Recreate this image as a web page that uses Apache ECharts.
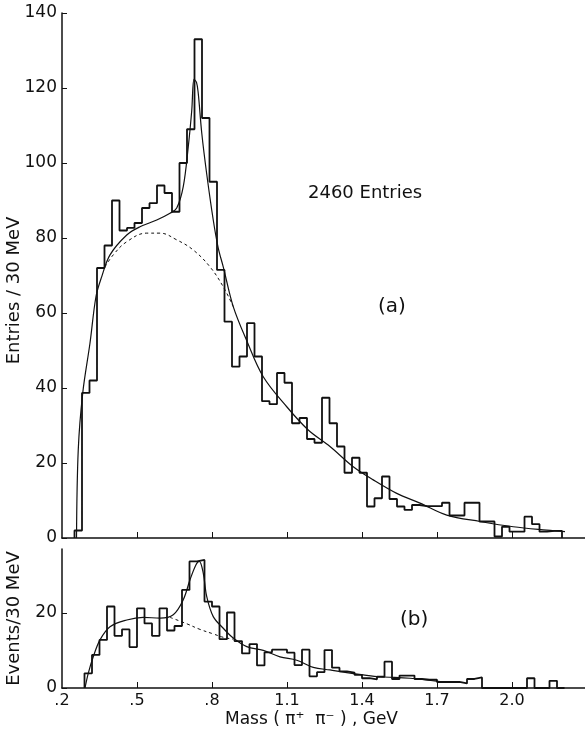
<!DOCTYPE html>
<html>
<head>
<meta charset="utf-8">
<script src="https://cdn.jsdelivr.net/npm/echarts@6/dist/echarts.min.js"></script>
<style>
  html, body { margin: 0; background: #fff; }
  #main { width: 585px; height: 734px; }
</style>
</head>
<body>
<div id="main"></div>
<script>
// Histogram bins are 30 MeV wide (values in GeV)
const binWidth = 0.03;

// (a) all entries, bins start at 0.25 GeV
const topBinStart = 0.25;
const topCounts = [2, 38.7, 42, 72, 78, 90, 82, 82.7, 84, 88, 89.3, 94, 92, 87, 100, 109, 133, 112, 95,
    71.5, 57.7, 45.7, 48.4, 57.3, 48.4, 36.5, 35.7, 44, 41.4, 30.6, 32, 26.4, 25.4, 37.4, 30.6, 24.4,
    17.4, 21.4, 17.4, 8.4, 10.6, 16.4, 10.4, 8.4, 7.5, 8.8, 8.5, 8.5, 8.5, 9.4, 6, 6, 9.4, 9.4,
    4.4, 4.4, 0.4, 3, 1.7, 1.7, 5.7, 3.7, 1.7, 1.9, 1.9];

// (b) events, bins start at 0.29 GeV
const bottomBinStart = 0.29;
const bottomCounts = [3.9, 8.8, 12.8, 21.7, 13.9, 15.6, 10.9, 21.2, 17.2, 13.9, 21.2, 15.3, 16.5, 26.1,
    33.7, 34.1, 23, 21.7, 13, 20.1, 12.5, 9.2, 11.7, 6, 9.5, 10.2, 10.2, 9.4, 6.1, 10.2, 3.1, 4.2,
    10.1, 5.4, 4.4, 4.1, 3.5, 2.6, 2.3, 3, 7, 2.4, 3.3, 3.3, 2.4, 2.2, 2.2, 1.6, 1.6, 1.6, 1.2, 2.4,
    2.8, 0, 0, 0, 0, 0, 0, 2.6, 0, 0, 1.9, 0];

// fitted curves [mass, value]
const topFit = [[0.258, 0], [0.265, 23.5], [0.283, 38.7], [0.312, 52], [0.336, 64.4], [0.359, 69.7],
    [0.392, 75.5], [0.459, 80.8], [0.512, 83], [0.579, 84.8], [0.632, 86.6], [0.659, 88],
    [0.685, 93.7], [0.705, 104.3], [0.719, 114], [0.728, 122.3], [0.738, 121.5], [0.745, 118.6],
    [0.759, 108], [0.779, 97], [0.805, 84.8], [0.825, 77.3], [0.845, 72.3], [0.885, 61.7],
    [0.939, 52.6], [1.005, 43], [1.099, 35], [1.185, 28.8], [1.272, 24.4], [1.365, 19],
    [1.445, 15.5], [1.539, 11.9], [1.632, 9.3], [1.739, 6.1], [1.872, 4.4], [2.005, 3],
    [2.139, 2.1], [2.212, 1.7]];
const topBackground = [[0.372, 72.3], [0.405, 75.5], [0.459, 79], [0.539, 81.3], [0.592, 81.3],
    [0.659, 79.5], [0.725, 76.8], [0.792, 72.3], [0.845, 67], [0.885, 61.7]];

const bottomFit = [[0.292, 0], [0.305, 3.9], [0.325, 8.3], [0.352, 12.8], [0.392, 16.3], [0.459, 18.1],
    [0.525, 18.8], [0.592, 18.6], [0.645, 19.5], [0.685, 23.5], [0.712, 28.8], [0.736, 32.8],
    [0.749, 33.7], [0.765, 30.6], [0.779, 24.3], [0.805, 19], [0.845, 15.9], [0.885, 13.3],
    [0.939, 11], [1.005, 10], [1.072, 8.3], [1.139, 7.4], [1.205, 5.5], [1.272, 4.8],
    [1.339, 4.1], [1.405, 3.5], [1.472, 3.0], [1.592, 2.6], [1.712, 1.7]];
const bottomBackground = [[0.632, 18.8], [0.699, 17.1], [0.752, 15.6], [0.805, 14.4],
    [0.845, 13.5], [0.885, 13.0]];

// axis ticks
const xTickValues = [0.2, 0.5, 0.8, 1.1, 1.4, 1.7, 2.0];
const xTickLabels = ['.2', '.5', '.8', '1.1', '1.4', '1.7', '2.0'];
const bottomYTicks = [0, 20];

// Turn bin contents into an outline for a stepped line
function histOutline(start, counts) {
    let pts = [[start, 0]];
    for (let i = 0; i < counts.length; i++) {
        pts.push([start + i * binWidth, counts[i]]);
    }
    const end = start + counts.length * binWidth;
    pts.push([end, counts[counts.length - 1]]);
    pts.push([end, 0]);
    return pts;
}

function xLabel(v) {
    const i = xTickValues.findIndex(t => Math.abs(t - v) < 1e-6);
    return i >= 0 ? xTickLabels[i] : '';
}

const font = 'DejaVu Sans';
const ink = '#111';

const chartDom = document.getElementById('main');
const myChart = echarts.init(chartDom, null, { renderer: 'canvas' });

const axisLine = { show: true, lineStyle: { color: ink, width: 1.5 } };

const option = {
    backgroundColor: '#fff',
    animation: false,
    grid: [
        { left: 62, top: 13, width: 525, height: 525, outerBoundsMode: 'none', containLabel: false },
        { left: 62, top: 549, width: 525, height: 139, outerBoundsMode: 'none', containLabel: false }
    ],
    xAxis: [
        {
            type: 'value', gridIndex: 0, min: 0.2, max: 2.3,
            axisLine: axisLine,
            axisTick: { inside: true, length: 6, customValues: xTickValues.slice(1), lineStyle: { color: ink } },
            axisLabel: { show: false },
            splitLine: { show: false }
        },
        {
            type: 'value', gridIndex: 1, min: 0.2, max: 2.3,
            axisLine: axisLine,
            axisTick: { inside: true, length: 6, customValues: xTickValues.slice(1), lineStyle: { color: ink } },
            axisLabel: {
                customValues: xTickValues, formatter: xLabel, margin: 5,
                color: ink, fontFamily: font, fontSize: 16
            },
            splitLine: { show: false },
            name: 'Mass ( π⁺  π⁻ ) , GeV',
            nameLocation: 'middle', nameGap: 23, nameMoveOverlap: false,
            nameTextStyle: { color: ink, fontFamily: font, fontSize: 17, padding: [0, 26, 0, 0] }
        }
    ],
    yAxis: [
        {
            type: 'value', gridIndex: 0, min: 0, max: 140, interval: 20,
            axisLine: axisLine,
            axisTick: { inside: true, length: 5, lineStyle: { color: ink } },
            axisLabel: { margin: 5, color: ink, fontFamily: font, fontSize: 17 },
            splitLine: { show: false },
            name: 'Entries / 30 MeV',
            nameLocation: 'middle', nameGap: 39, nameRotate: 90, nameMoveOverlap: false,
            nameTextStyle: { color: ink, fontFamily: font, fontSize: 18, padding: [0, 30, 0, 0] }
        },
        {
            type: 'value', gridIndex: 1, min: 0, max: 37,
            axisLine: axisLine,
            axisTick: { inside: true, length: 5, customValues: bottomYTicks, lineStyle: { color: ink } },
            axisLabel: { customValues: bottomYTicks, margin: 5, color: ink, fontFamily: font, fontSize: 17 },
            splitLine: { show: false },
            name: 'Events/30 MeV',
            nameLocation: 'middle', nameGap: 39, nameRotate: 90, nameMoveOverlap: false,
            nameTextStyle: { color: ink, fontFamily: font, fontSize: 18 }
        }
    ],
    graphic: [
        { type: 'text', left: 308, top: 184, style: { text: '2460 Entries', fill: ink, font: '18px "DejaVu Sans"' } },
        { type: 'text', left: 378, top: 297, style: { text: '(a)', fill: ink, font: '20px "DejaVu Sans"' } },
        { type: 'text', left: 400, top: 610, style: { text: '(b)', fill: ink, font: '20px "DejaVu Sans"' } }
    ],
    series: [
        {
            type: 'line', xAxisIndex: 0, yAxisIndex: 0, step: 'end', symbol: 'none',
            data: histOutline(topBinStart, topCounts),
            lineStyle: { color: ink, width: 1.8 }
        },
        {
            type: 'line', xAxisIndex: 0, yAxisIndex: 0, smooth: 0.35, symbol: 'none',
            data: topFit, lineStyle: { color: ink, width: 1.2 }
        },
        {
            type: 'line', xAxisIndex: 0, yAxisIndex: 0, smooth: 0.4, symbol: 'none',
            data: topBackground, lineStyle: { color: ink, width: 1, type: [3, 3] }
        },
        {
            type: 'line', xAxisIndex: 1, yAxisIndex: 1, step: 'end', symbol: 'none',
            data: histOutline(bottomBinStart, bottomCounts),
            lineStyle: { color: ink, width: 1.8 }
        },
        {
            type: 'line', xAxisIndex: 1, yAxisIndex: 1, smooth: 0.35, symbol: 'none',
            data: bottomFit, lineStyle: { color: ink, width: 1.2 }
        },
        {
            type: 'line', xAxisIndex: 1, yAxisIndex: 1, smooth: 0.4, symbol: 'none',
            data: bottomBackground, lineStyle: { color: ink, width: 1, type: [3, 3] }
        }
    ]
};

option && myChart.setOption(option);
</script>
</body>
</html>
